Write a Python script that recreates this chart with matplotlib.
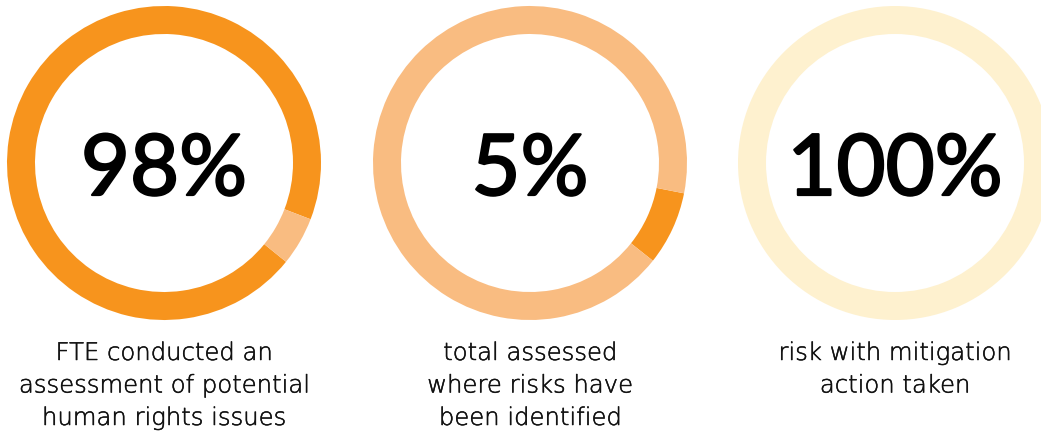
import matplotlib.pyplot as plt
import matplotlib.patheffects as pe

# values
labels_big = ["98%", "5%", "100%"]
captions = ["FTE conducted an\nassessment of potential\nhuman rights issues",
            "total assessed\nwhere risks have\nbeen identified",
            "risk with mitigation\naction taken"]
# share of each ring segment (percent of the circle), in drawing order
ring_shares = [[95, 5], [7.6, 92.4], [100]]
ring_starts = [-21, -38.5, 90]

DARK = "#F7941D"
LIGHT = "#F9BC81"
PALE = "#FEF1CF"
ring_colors = [[DARK, LIGHT], [DARK, LIGHT], [PALE]]

W, H = 1041, 433
centers_x = [164, 530, 895]
center_y = H - 163
r_out = 157
width = 28
line_gap = 32.5

fig = plt.figure(figsize=(W / 100, H / 100), dpi=100)
ax = fig.add_axes([0, 0, 1, 1])

for i in range(3):
    ax.pie(ring_shares[i], colors=ring_colors[i], startangle=ring_starts[i],
           radius=r_out, center=(centers_x[i], center_y),
           wedgeprops=dict(width=width, linewidth=0), frame=True)
    ax.text(centers_x[i], H - 195, labels_big[i], ha="center", va="baseline",
            fontsize=61, fontfamily="Lato", color="black",
            path_effects=[pe.Stroke(linewidth=1.6, foreground="black"),
                          pe.Normal()])
    for j, line in enumerate(captions[i].split("\n")):
        ax.text(centers_x[i], H - 360 - j * line_gap, line, ha="center",
                va="baseline", fontsize=17.5, fontfamily="DejaVu Sans",
                fontweight="light", color="#111111",
                path_effects=[pe.Stroke(linewidth=0.35, foreground="#111111"),
                              pe.Normal()])

ax.set_xlim(0, W)
ax.set_ylim(0, H)
ax.set_aspect("equal")
ax.axis("off")

fig.savefig("out.png", dpi=100)
